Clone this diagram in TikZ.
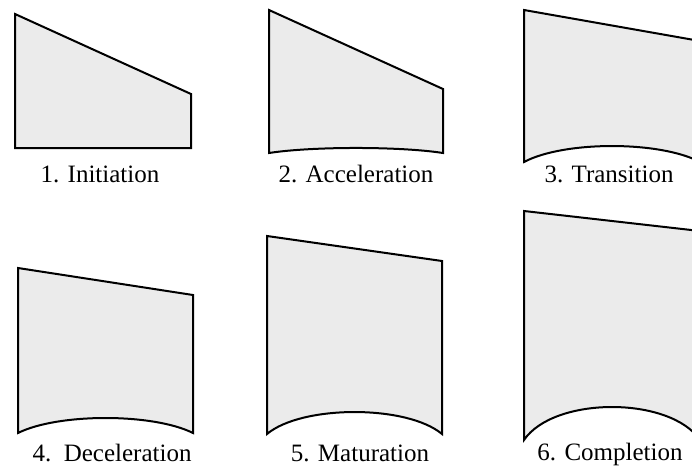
\documentclass[tikz,border=0pt]{standalone}
\usepackage{fontspec}
\setmainfont{Liberation Serif}
\definecolor{fond}{HTML}{EBEBEB}

\begin{document}
\begin{tikzpicture}[
    x=1pt, y=-1pt,
    forme/.style={draw=black, line width=2pt, fill=fond},
    legende/.style={anchor=base, inner sep=0pt, font=\fontsize{25}{30}\selectfont}
]

% Cadre
\useasboundingbox (0,0) rectangle (692,466);
\clip (0,0) rectangle (692,466);

% Formes
\draw[forme] (15,14) -- (191,94) -- (191,148) -- (15,148) -- cycle;
\draw[forme] (269,10) -- (443,89) -- (443,153)
    .. controls (400,146.3) and (312,146.3) .. (269,153) -- cycle;
\draw[forme] (524,10) -- (700,41) -- (700,162)
    .. controls (660,140.7) and (564,140.7) .. (524,162) -- cycle;
\draw[forme] (18,268) -- (193,295) -- (193,433)
    .. controls (153,413) and (58,413) .. (18,433) -- cycle;
\draw[forme] (267,236) -- (442,261) -- (442,434)
    .. controls (407,404.7) and (302,404.7) .. (267,434) -- cycle;
\draw[forme] (524,211) -- (700,231) -- (700,440)
    .. controls (670,396) and (554,396) .. (524,440) -- cycle;

% Légendes
\node[legende] (init) at (100,182) {1. Initiation};
\node[legende] (accel) at (356,182) {2. Acceleration};
\node[legende] (trans) at (609,182) {3. Transition};
\node[legende] (decel) at (112,461) {4.\ \ Deceleration};
\node[legende] (matur) at (360,461) {5. Maturation};
\node[legende] (compl) at (610,460) {6. Completion};

\end{tikzpicture}
\end{document}
